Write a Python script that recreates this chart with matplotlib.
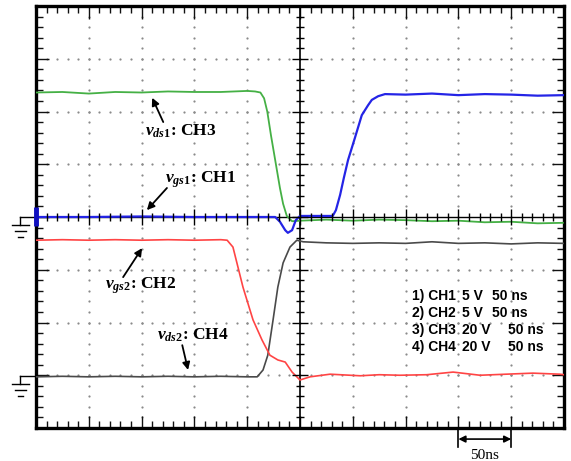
import matplotlib.pyplot as plt
import numpy as np
from matplotlib.collections import LineCollection

# Scope traces, in screen divisions (x: 10 div of 50 ns, y: 8 div)
ch3_x = [-5.0, -4.5, -4.0, -3.5, -3.0, -2.5, -2.0, -1.5, -1.0, -0.85, -0.75, -0.68, -0.62,
         -0.55, -0.47, -0.38, -0.32, -0.25, -0.15, 0.0, 0.5, 1.0, 1.5, 2.0, 2.5, 3.0, 3.5,
         4.0, 4.5, 5.0]
ch3_y = [2.36, 2.37, 2.34, 2.37, 2.36, 2.38, 2.37, 2.37, 2.39, 2.38, 2.36, 2.25, 2.0,
         1.55, 1.08, 0.55, 0.25, 0.02, -0.08, -0.07, -0.05, -0.07, -0.05, -0.06, -0.08,
         -0.07, -0.10, -0.09, -0.12, -0.11]

ch1_x = [-5.0, -4.0, -3.0, -2.0, -1.0, -0.47, -0.38, -0.28, -0.23, -0.15, -0.08, 0.0, 0.3,
         0.62, 0.68, 0.76, 0.83, 0.91, 1.04, 1.17, 1.29, 1.36, 1.48, 1.61, 2.0, 2.5, 3.0,
         3.5, 4.0, 4.5, 5.0]
ch1_y = [0.0, 0.0, 0.01, 0.0, 0.0, 0.0, -0.09, -0.25, -0.30, -0.25, -0.06, 0.02, 0.02,
         0.02, 0.13, 0.42, 0.74, 1.08, 1.50, 1.93, 2.12, 2.22, 2.29, 2.33, 2.32, 2.34,
         2.31, 2.33, 2.32, 2.30, 2.31]

ch2_x = [-5.0, -4.5, -4.0, -3.5, -3.0, -2.5, -2.0, -1.5, -1.38, -1.27, -1.08, -0.89, -0.72,
         -0.57, -0.42, -0.28, -0.15, 0.0, 0.19, 0.57, 1.14, 1.5, 1.89, 2.4, 2.9, 3.41, 3.9,
         4.41, 4.92, 5.0]
ch2_y = [-0.44, -0.43, -0.44, -0.43, -0.44, -0.43, -0.44, -0.43, -0.44, -0.57, -1.33,
         -1.95, -2.33, -2.62, -2.71, -2.75, -2.94, -3.09, -3.03, -2.98, -3.01, -2.99, -3.0,
         -2.99, -2.94, -3.0, -2.98, -2.96, -2.98, -2.99]

ch4_x = [-5.0, -4.5, -4.0, -3.5, -3.0, -2.5, -2.0, -1.5, -1.0, -0.81, -0.70, -0.61, -0.51,
         -0.42, -0.32, -0.19, -0.06, 0.06, 0.5, 1.0, 1.5, 2.0, 2.5, 3.0, 3.5, 4.0, 4.5, 5.0]
ch4_y = [-3.03, -3.02, -3.03, -3.02, -3.03, -3.02, -3.03, -3.02, -3.03, -3.03, -2.90,
         -2.62, -1.95, -1.33, -0.87, -0.57, -0.44, -0.47, -0.49, -0.50, -0.49, -0.50,
         -0.47, -0.50, -0.49, -0.51, -0.49, -0.50]

channels = ['1) CH1', '2) CH2', '3) CH3', '4) CH4']
volts = ['5 V', '5 V', '20 V', '20 V']
times = ['50 ns', '50 ns', '50 ns', '50 ns']

plt.rcParams['mathtext.fontset'] = 'custom'
plt.rcParams['mathtext.it'] = 'Liberation Serif:italic:bold'
plt.rcParams['mathtext.rm'] = 'Liberation Serif:bold'
plt.rcParams['mathtext.bf'] = 'Liberation Serif:bold'

W, H = 571, 461
fig = plt.figure(figsize=(W / 100, H / 100), dpi=100)
ax = fig.add_axes([36 / W, 1 - 428 / H, 528 / W, 422 / H])
ax.set_xlim(-5, 5)
ax.set_ylim(-4, 4)

# graticule: frame ticks
for s in ax.spines.values():
    s.set_linewidth(2.4)
ax.set_xticks(np.arange(-5, 6, 1))
ax.set_yticks(np.arange(-4, 5, 1))
ax.set_xticks(np.arange(-5, 5.01, 0.2), minor=True)
ax.set_yticks(np.arange(-4, 4.01, 0.2), minor=True)
ax.tick_params(which='both', direction='in', top=True, right=True,
               labelleft=False, labelbottom=False, width=1.0, color='#111111')
ax.tick_params(which='major', length=9)
ax.tick_params(which='minor', length=5)

# dotted grid
dot = '#8a8a8a'
fine_y = np.arange(-4, 4.01, 0.2)
fine_x = np.arange(-5, 5.01, 0.2)
for gx in [-4, -3, -2, -1, 1, 2, 3, 4]:
    ax.plot(np.full_like(fine_y, gx), fine_y, ls='none', marker='o', ms=1.6, color=dot,
            mec='none', zorder=1)
for gy in [-3, -2, -1, 1, 2, 3]:
    ax.plot(fine_x, np.full_like(fine_x, gy), ls='none', marker='o', ms=1.6, color=dot,
            mec='none', zorder=1)

# center cross
ax.axhline(0, color='black', lw=1.0, zorder=2)
ax.axvline(0, color='black', lw=1.2, zorder=2)
segs = []
for v in fine_x:
    h = 0.16 if abs(v - round(v)) < 1e-6 else 0.08
    segs.append([(v, -h), (v, h)])
for v in fine_y:
    h = 0.16 if abs(v - round(v)) < 1e-6 else 0.08
    segs.append([(-h, v), (h, v)])
ax.add_collection(LineCollection(segs, colors='black', linewidths=1.0, zorder=5))

# traces
ax.plot(ch4_x, ch4_y, color='#4a4a4a', lw=1.2, zorder=3)
ax.plot(ch2_x, ch2_y, color='#ff4444', lw=1.2, zorder=3)
ax.plot(ch3_x, ch3_y, color='#45b045', lw=1.3, zorder=3)
ax.plot(ch1_x, ch1_y, color='#2424e6', lw=1.6, zorder=4)

# channel marker and ground symbols on the left edge
ax.plot([-5, -5], [-0.18, 0.19], color='#1010c0', lw=3.5, solid_capstyle='butt',
        clip_on=False, zorder=6)
for g in [0.0, -3.01]:
    kw = dict(color='black', lw=1.0, clip_on=False)
    ax.plot([-5.30, -5.0], [g, g], **kw)
    ax.plot([-5.30, -5.30], [g, g - 0.16], **kw)
    ax.plot([-5.45, -5.13], [g - 0.16, g - 0.16], **kw)
    ax.plot([-5.40, -5.19], [g - 0.27, g - 0.27], **kw)
    ax.plot([-5.34, -5.25], [g - 0.38, g - 0.38], **kw)

# trace labels
lab = dict(fontfamily='Liberation Serif', fontweight='bold', fontsize=12.5, va='baseline',
           zorder=7)
arr = dict(arrowstyle='-|>', color='black', lw=1.3, mutation_scale=11,
           shrinkA=0, shrinkB=0)
ax.text(-2.94, 1.55, r'$v_{ds\mathrm{1}}$: CH3', **lab)
ax.annotate('', xy=(-2.80, 2.26), xytext=(-2.59, 1.80), arrowprops=arr)
ax.text(-2.56, 0.66, r'$v_{gs\mathrm{1}}$: CH1', **lab)
ax.annotate('', xy=(-2.90, 0.13), xytext=(-2.52, 0.55), arrowprops=arr)
ax.text(-3.69, -1.36, r'$v_{gs\mathrm{2}}$: CH2', **lab)
ax.annotate('', xy=(-2.99, -0.59), xytext=(-3.35, -1.14), arrowprops=arr)
ax.text(-2.71, -2.33, r'$v_{ds\mathrm{2}}$: CH4', **lab)
ax.annotate('', xy=(-2.12, -2.90), xytext=(-2.23, -2.43), arrowprops=arr)

# settings box
leg = dict(fontfamily='Liberation Sans', fontweight='bold', fontsize=10, va='baseline',
           zorder=7)
base_y = [-1.57, -1.90, -2.22, -2.54]
time_x = [3.64, 3.64, 3.94, 3.94]
for i in range(4):
    ax.text(2.12, base_y[i], channels[i], **leg)
    ax.text(3.07, base_y[i], volts[i], **leg)
    ax.text(time_x[i], base_y[i], times[i], **leg)

# time scale bar under the screen
kw = dict(color='black', lw=1.2, clip_on=False)
ax.plot([3.0, 3.0], [-4.04, -4.36], **kw)
ax.plot([4.0, 4.0], [-4.04, -4.36], **kw)
ax.annotate('', xy=(3.0, -4.21), xytext=(4.0, -4.21), annotation_clip=False,
            arrowprops=dict(arrowstyle='<|-|>', color='black', lw=1.2, mutation_scale=10,
                            shrinkA=0, shrinkB=0))
ax.text(3.5, -4.58, '50ns', fontfamily='Liberation Serif', fontsize=11, ha='center',
        va='baseline')

fig.savefig('out.png', dpi=100)
